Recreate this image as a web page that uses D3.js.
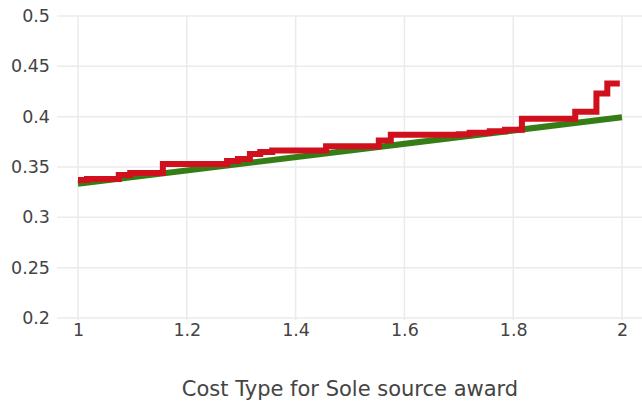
<!DOCTYPE html>
<html><head><meta charset="utf-8">
<script src="https://cdn.jsdelivr.net/npm/d3@7"></script>
<style>body{margin:0;background:#fff}svg{display:block}</style>
</head><body>
<svg id="c" width="642" height="405"></svg>
<script>
// Data
const xTicks = [1, 1.2, 1.4, 1.6, 1.8, 2];
const yTicks = [0.2, 0.25, 0.3, 0.35, 0.4, 0.45, 0.5];
const xTitle = "Cost Type for Sole source award";
// Fitted (green) line
const fitX = [1, 2];
const fitY = [0.3333, 0.3995];
// Empirical step line (red): step x positions and values (step-after)
const stepX = [1.0, 1.0165, 1.075, 1.096, 1.156, 1.274, 1.294, 1.316, 1.335, 1.357, 1.456, 1.553, 1.575, 1.70, 1.72, 1.757, 1.785, 1.816, 1.914, 1.953, 1.973, 1.996];
const stepY = [0.337, 0.338, 0.342, 0.344, 0.353, 0.356, 0.358, 0.363, 0.365, 0.3665, 0.3705, 0.3763, 0.382, 0.3825, 0.384, 0.3855, 0.387, 0.398, 0.405, 0.423, 0.433, 0.433];

const svg = d3.select("#c");
const font = "'DejaVu Sans', Verdana, sans-serif";
const x = d3.scaleLinear().domain([1, 2]).range([78, 622]);
const y = d3.scaleLinear().domain([0.2, 0.5]).range([318, 16]);
const plotLeft = 57, plotRight = 642, plotTop = 16, plotBottom = 320;

// grid
svg.append("g").selectAll("line").data(yTicks).join("line")
  .attr("x1", plotLeft).attr("x2", plotRight)
  .attr("y1", d => y(d)).attr("y2", d => y(d))
  .attr("stroke", "#ebebeb").attr("stroke-width", 1.5);
svg.append("g").selectAll("line").data(xTicks).join("line")
  .attr("x1", d => x(d)).attr("x2", d => x(d))
  .attr("y1", plotTop).attr("y2", plotBottom)
  .attr("stroke", "#ebebeb").attr("stroke-width", 1.5);

// axes labels
const yAxis = d3.axisLeft(y).tickValues(yTicks).tickSize(0).tickPadding(0)
  .tickFormat(d => d3.format("")(+d.toFixed(2)));
const gy = svg.append("g").attr("transform", "translate(50,0)").call(yAxis);
gy.select(".domain").remove();
gy.selectAll("text").attr("font-family", font).attr("font-size", 17.5).attr("fill", "#444");

const xAxis = d3.axisBottom(x).tickValues(xTicks).tickSize(0).tickPadding(0)
  .tickFormat(d => d3.format("")(+d.toFixed(1)));
const gx = svg.append("g").attr("transform", "translate(0,324)").call(xAxis);
gx.select(".domain").remove();
gx.selectAll("text").attr("font-family", font).attr("font-size", 17.5).attr("fill", "#444");

svg.append("text").attr("x", 350).attr("y", 396).attr("text-anchor", "middle")
  .attr("font-family", font).attr("font-size", 21).attr("fill", "#444").text(xTitle);

// green fit line
const fitData = fitX.map((d, i) => [d, fitY[i]]);
svg.append("path").datum(fitData)
  .attr("d", d3.line().x(d => x(d[0])).y(d => y(d[1])))
  .attr("fill", "none").attr("stroke", "#367d16").attr("stroke-width", 6);

// red step line
const stepData = stepX.map((d, i) => [d, stepY[i]]);
svg.append("path").datum(stepData)
  .attr("d", d3.line().curve(d3.curveStepAfter).x(d => x(d[0])).y(d => y(d[1])))
  .attr("fill", "none").attr("stroke", "#d0101c").attr("stroke-width", 6);
</script>
</body></html>
